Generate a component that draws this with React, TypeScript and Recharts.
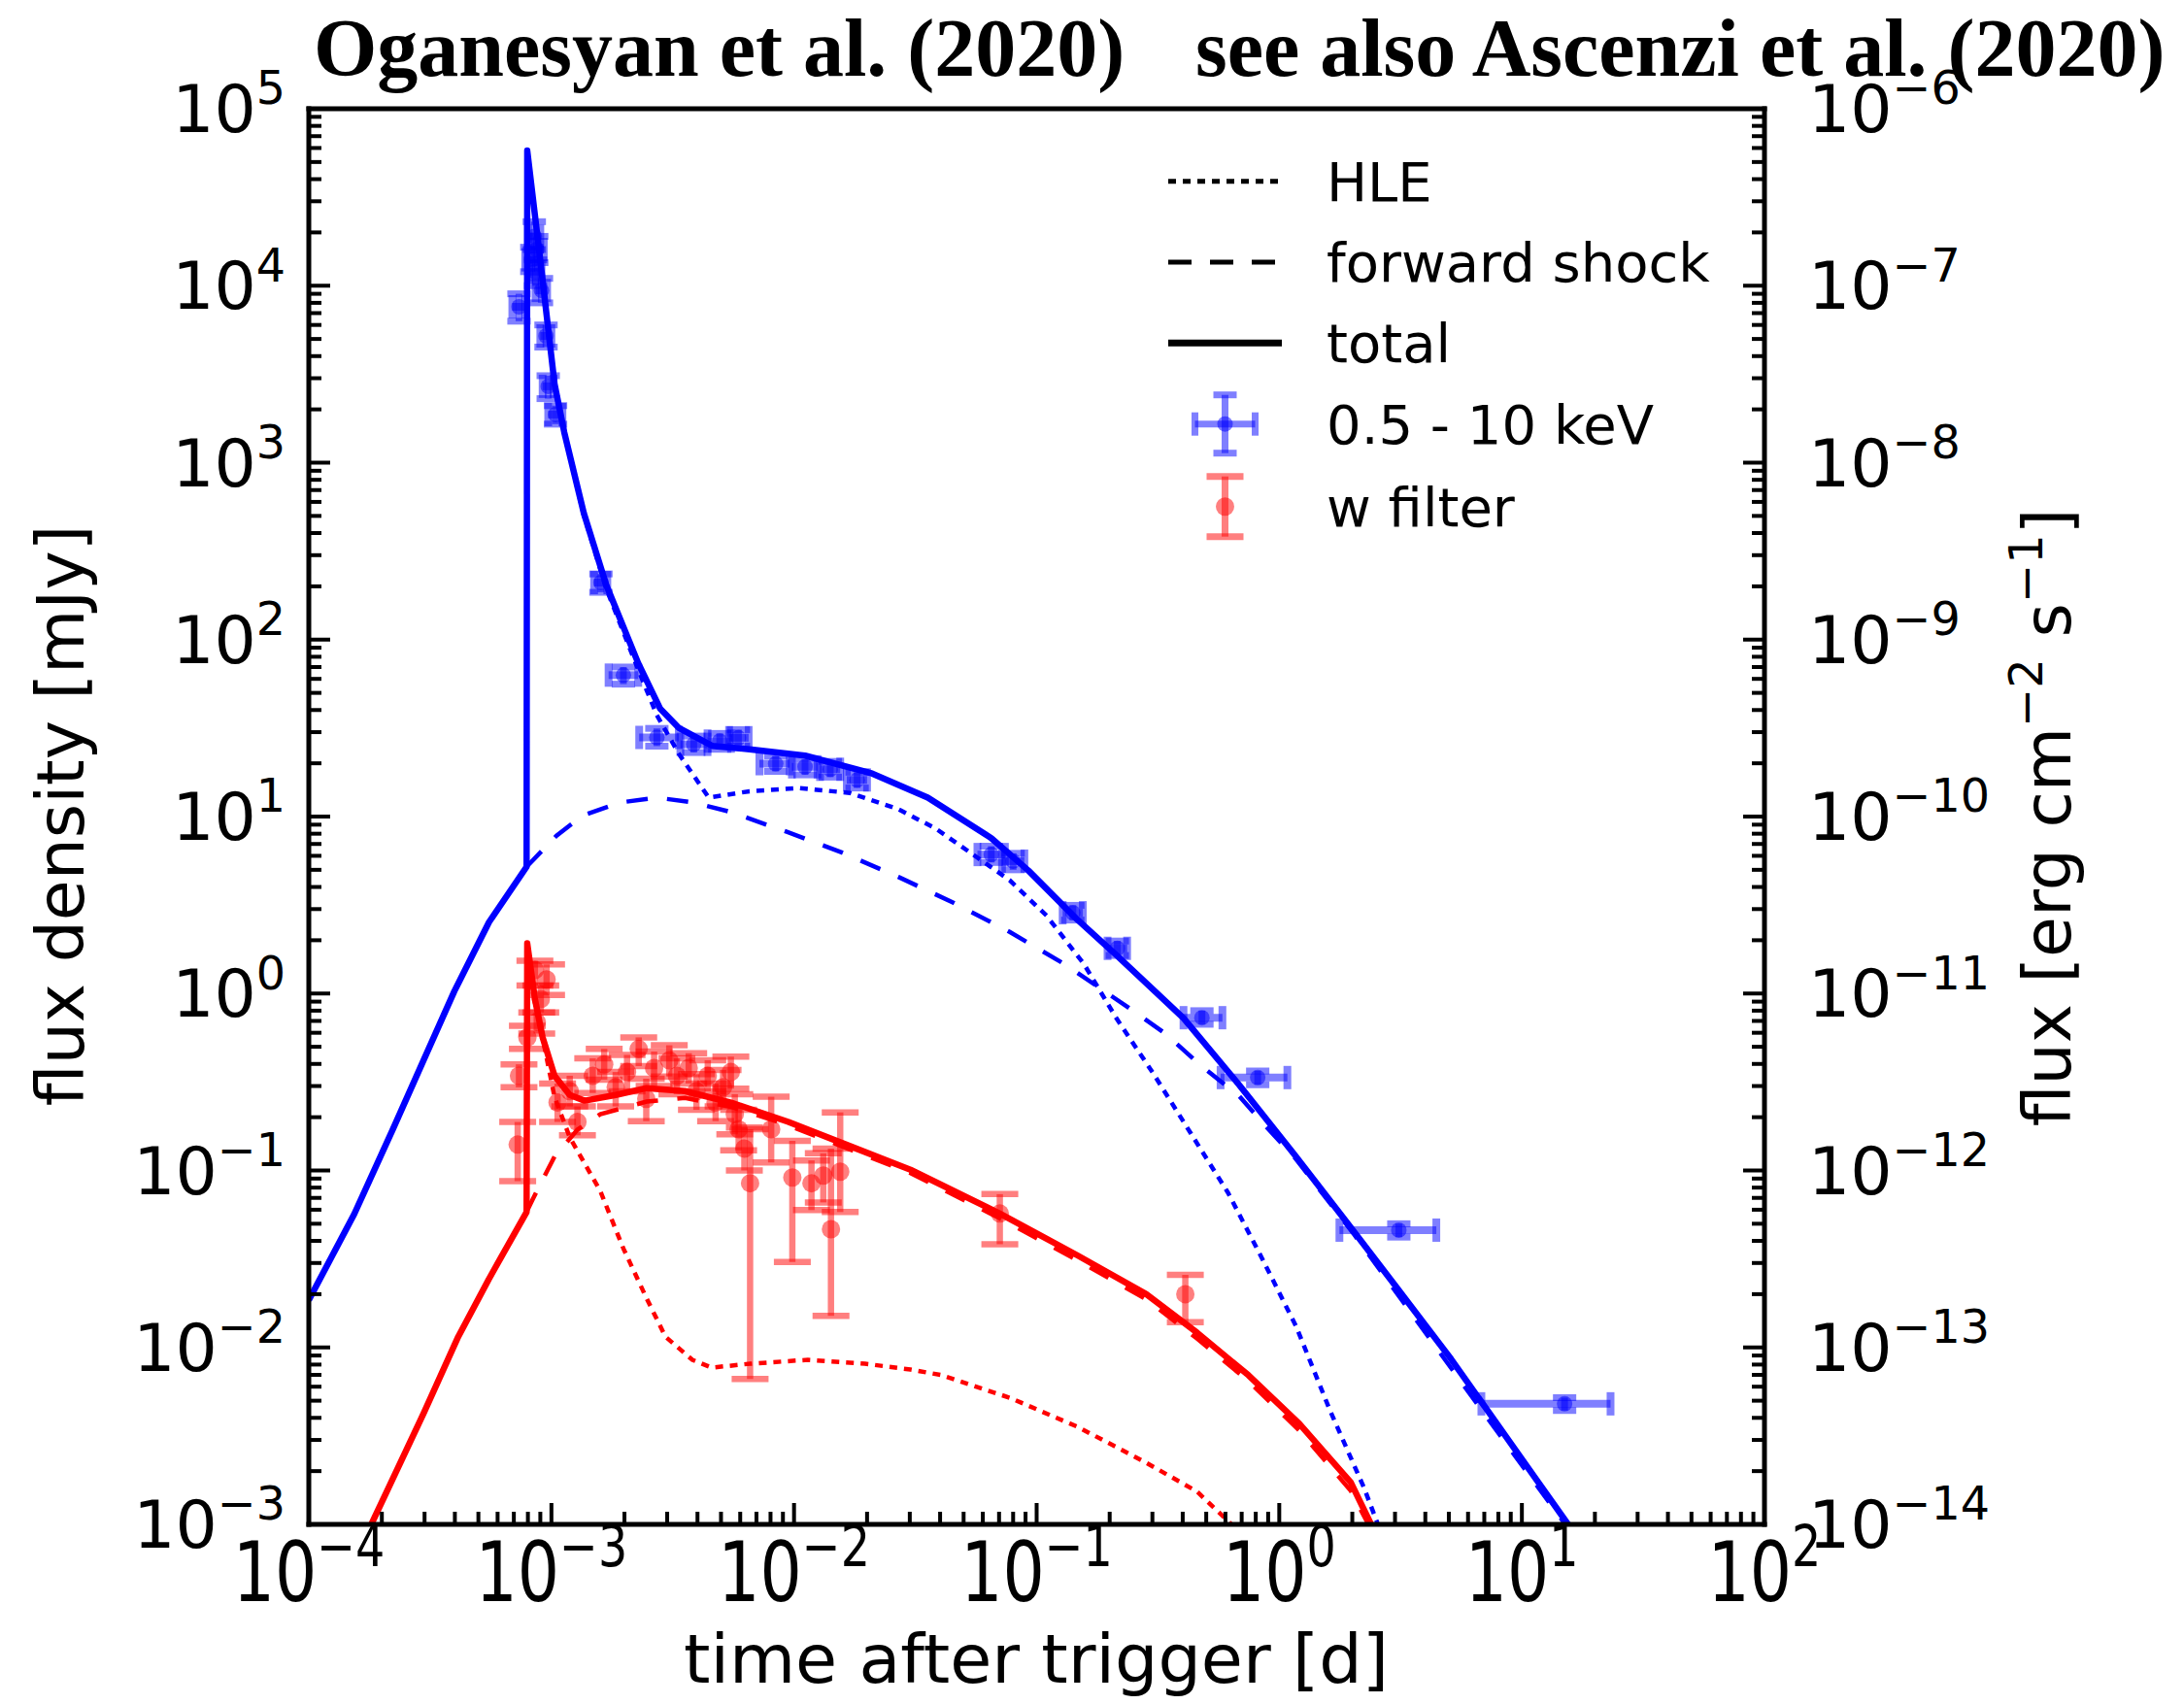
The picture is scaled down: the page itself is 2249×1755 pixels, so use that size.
import { ComposedChart, ErrorBar, Line, Scatter, XAxis, YAxis } from "recharts";

const W = 2249;
const H = 1755;

// model curves: time after trigger [d] and flux density [mJy]
const xrayTotalT = [1.0e-4, 1.54e-4, 2.22e-4, 2.97e-4, 3.98e-4, 5.53e-4, 7.9e-4, 7.95e-4, 9.1e-4, 1.03e-3, 1.13e-3, 1.36e-3, 1.68e-3, 2.28e-3, 2.81e-3, 3.36e-3, 4.6e-3, 6.56e-3, 1.11e-2, 2.1e-2, 3.56e-2, 6.5e-2, 9.25e-2, 0.146, 0.213, 0.403, 0.684, 1.16, 1.9, 3.01, 5.11, 15.5];
const xrayTotalF = [0.0185, 0.0568, 0.171, 0.419, 1.03, 2.53, 5.2, 5.8e4, 1.22e4, 2.79e3, 1.48e3, 518, 205, 73.5, 40.6, 31.6, 25.1, 24.0, 22.1, 17.5, 12.8, 7.55, 4.95, 2.64, 1.65, 0.726, 0.304, 0.122, 0.0509, 0.0223, 0.00859, 0.001];

const xrayHleT = [7.95e-4, 9.1e-4, 1.03e-3, 1.13e-3, 1.36e-3, 1.68e-3, 2.28e-3, 2.72e-3, 3.36e-3, 4.45e-3, 6.56e-3, 1.04e-2, 1.7e-2, 2.69e-2, 3.83e-2, 5.45e-2, 7.74e-2, 0.11, 0.157, 0.213, 0.303, 0.432, 0.615, 0.851, 1.175, 1.62, 2.24, 2.55];
const xrayHleF = [5.8e4, 1.2e4, 2.75e3, 1.46e3, 505, 195, 67.5, 37.4, 22.5, 12.8, 13.9, 14.5, 13.6, 11.0, 8.57, 6.12, 4.37, 2.75, 1.46, 0.726, 0.352, 0.162, 0.0748, 0.0317, 0.0131, 0.00439, 0.0016, 0.001];

const xrayFsT = [7.9e-4, 1.05e-3, 1.34e-3, 1.91e-3, 2.72e-3, 3.86e-3, 5.5e-3, 9.33e-3, 1.58e-2, 2.69e-2, 4.56e-2, 7.74e-2, 0.131, 0.237, 0.337, 0.48, 0.684, 0.875, 1.16, 2.03, 6.71, 15.1];
const xrayFsF = [5.2, 7.8, 10.1, 12.0, 12.8, 12.0, 10.6, 8.2, 6.25, 4.56, 3.25, 2.23, 1.46, 0.839, 0.598, 0.387, 0.263, 0.179, 0.118, 0.0437, 0.00457, 0.001];

const uvotTotalT = [1.81e-4, 2.97e-4, 4.13e-4, 5.52e-4, 7.9e-4, 7.95e-4, 8.55e-4, 9.2e-4, 1.03e-3, 1.19e-3, 1.37e-3, 1.84e-3, 2.47e-3, 3.55e-3, 5.5e-3, 9.48e-3, 1.64e-2, 3.02e-2, 7.05e-2, 0.148, 0.283, 0.459, 0.746, 1.21, 1.97, 2.39];
const uvotTotalF = [0.001, 0.00423, 0.0115, 0.0243, 0.0582, 1.92, 0.931, 0.565, 0.343, 0.267, 0.248, 0.267, 0.292, 0.281, 0.242, 0.188, 0.14, 0.101, 0.0571, 0.033, 0.02, 0.0121, 0.00697, 0.0037, 0.00173, 0.001];

const uvotHleT = [7.95e-4, 8.55e-4, 9.2e-4, 1.03e-3, 1.19e-3, 1.59e-3, 1.98e-3, 2.47e-3, 2.95e-3, 3.81e-3, 4.58e-3, 6.59e-3, 1.14e-2, 1.96e-2, 3.02e-2, 4.06e-2, 7.76e-2, 0.148, 0.283, 0.459, 0.635];
const uvotHleF = [1.92, 0.931, 0.56, 0.26, 0.154, 0.0766, 0.0362, 0.0189, 0.0115, 0.00851, 0.00769, 0.00809, 0.00851, 0.00809, 0.0075, 0.00697, 0.00519, 0.00355, 0.00223, 0.00153, 0.001];

const uvotFsT = [7.9e-4, 8.4e-4, 1.03e-3, 1.28e-3, 1.59e-3, 2.47e-3, 3.55e-3, 5.5e-3, 9.48e-3, 1.64e-2, 3.02e-2, 7.05e-2, 0.148, 0.283, 0.459, 0.746, 1.21, 1.97, 2.33];
const uvotFsF = [0.0582, 0.0693, 0.12, 0.17, 0.208, 0.245, 0.257, 0.229, 0.18, 0.134, 0.0966, 0.0537, 0.031, 0.0187, 0.0112, 0.00646, 0.00339, 0.00155, 0.001];

// XRT 0.5 - 10 keV data
const xrayT = [7.35e-4, 8.5e-4, 8.7e-4, 8.3e-4, 8.6e-4, 9.1e-4, 9.5e-4, 9.7e-4, 1.04e-3, 1.6e-3, 1.98e-3, 2.72e-3, 3.86e-3, 4.94e-3, 5.9e-3, 8.4e-3, 1.11e-2, 1.41e-2, 1.82e-2, 6.5e-2, 8.0e-2, 0.141, 0.215, 0.48, 0.815, 3.11, 15.0];
const xrayTMin = [6.9e-4, 8.0e-4, 8.2e-4, 7.8e-4, 8.1e-4, 8.6e-4, 9.0e-4, 9.2e-4, 9.7e-4, 1.5e-3, 1.72e-3, 2.3e-3, 3.4e-3, 4.4e-3, 5.4e-3, 7.2e-3, 9.8e-3, 1.28e-2, 1.65e-2, 5.7e-2, 7.2e-2, 0.128, 0.196, 0.403, 0.573, 1.77, 6.81];
const xrayTMax = [7.8e-4, 9.0e-4, 9.3e-4, 8.8e-4, 9.1e-4, 9.6e-4, 1.0e-3, 1.02e-3, 1.11e-3, 1.7e-3, 2.28e-3, 3.35e-3, 4.4e-3, 5.5e-3, 6.5e-3, 9.6e-3, 1.25e-2, 1.55e-2, 2.0e-2, 7.4e-2, 8.9e-2, 0.155, 0.236, 0.583, 1.08, 4.44, 23.2];
const xrayF = [7600, 1.9e4, 1.6e4, 1.4e4, 1.2e4, 9400, 5200, 2700, 1870, 210, 63, 28, 25.6, 26.7, 27.9, 19.9, 19.1, 18.5, 16.1, 6.1, 5.6, 2.86, 1.8, 0.73, 0.335, 0.046, 0.0048];
const xrayFMin = [6300, 1.6e4, 1.35e4, 1.2e4, 1.0e4, 8000, 4500, 2300, 1650, 185, 56, 25, 23, 24, 25, 18, 17.2, 16.7, 14.5, 5.5, 5.0, 2.6, 1.64, 0.67, 0.305, 0.042, 0.0044];
const xrayFMax = [9000, 2.3e4, 1.9e4, 1.65e4, 1.4e4, 1.1e4, 6000, 3100, 2100, 235, 70, 31.5, 28.5, 29.5, 31, 22, 21, 20.5, 17.8, 6.8, 6.2, 3.15, 1.98, 0.8, 0.365, 0.05, 0.0052];

// UVOT w filter data
const wT = [7.26e-4, 7.35e-4, 7.96e-4, 8.55e-4, 8.7e-4, 9.04e-4, 9.55e-4, 1.06e-3, 1.19e-3, 1.28e-3, 1.48e-3, 1.65e-3, 1.84e-3, 2.05e-3, 2.29e-3, 2.46e-3, 2.65e-3, 3.06e-3, 3.29e-3, 3.68e-3, 3.96e-3, 4.41e-3, 4.75e-3, 5.1e-3, 5.49e-3, 5.7e-3, 5.91e-3, 6.24e-3, 6.59e-3, 8.05e-3, 9.84e-3, 1.18e-2, 1.32e-2, 1.42e-2, 1.55e-2, 7.05e-2, 0.41];
const wF = [0.14, 0.343, 0.565, 1.36, 0.69, 0.931, 1.2, 0.242, 0.281, 0.188, 0.343, 0.398, 0.295, 0.36, 0.486, 0.254, 0.379, 0.419, 0.343, 0.379, 0.281, 0.343, 0.242, 0.295, 0.36, 0.208, 0.171, 0.133, 0.0847, 0.171, 0.0912, 0.0847, 0.0935, 0.0466, 0.0984, 0.0571, 0.02];
const wFMin = [0.087, 0.295, 0.486, 1.11, 0.594, 0.782, 0.98, 0.188, 0.23, 0.158, 0.274, 0.326, 0.23, 0.28, 0.389, 0.19, 0.3, 0.34, 0.27, 0.31, 0.22, 0.28, 0.19, 0.23, 0.29, 0.16, 0.13, 0.1, 0.00664, 0.111, 0.0304, 0.0597, 0.066, 0.0151, 0.0582, 0.0383, 0.0139];
const wFMax = [0.188, 0.398, 0.656, 1.53, 0.782, 1.11, 1.46, 0.31, 0.343, 0.23, 0.43, 0.486, 0.36, 0.45, 0.565, 0.33, 0.47, 0.51, 0.43, 0.46, 0.35, 0.42, 0.31, 0.37, 0.44, 0.27, 0.22, 0.175, 0.171, 0.261, 0.147, 0.114, 0.125, 0.133, 0.213, 0.0735, 0.0257];

const timeDecades = [-4, -3, -2, -1, 0, 1, 2];
const fluxDensityDecades = [-3, -2, -1, 0, 1, 2, 3, 4, 5];
const fluxDecades = [-14, -13, -12, -11, -10, -9, -8, -7, -6];

const legendItems = ["HLE", "forward shock", "total", "0.5 - 10 keV", "w filter"];

const BLUE = "#0000ff";
const RED = "#ff0000";
const BLUE_A = "rgba(0,0,255,0.5)";
const RED_A = "rgba(255,0,0,0.5)";
const FONT = "DejaVu Sans, sans-serif";
const TICK_FONT = 68;

const curve = (t: number[], f: number[]) => t.map((v, i) => ({ t: v, f: f[i] }));

const logTicks = (decades: number[]) => {
  const out: number[] = [];
  decades.forEach((d, i) => {
    out.push(Math.pow(10, d));
    if (i < decades.length - 1) for (let k = 2; k < 10; k++) out.push(k * Math.pow(10, d));
  });
  return out;
};

const xrayPts = xrayT.map((t, i) => ({
  t,
  f: xrayF[i],
  tErr: [t - xrayTMin[i], xrayTMax[i] - t],
  fErr: [xrayF[i] - xrayFMin[i], xrayFMax[i] - xrayF[i]],
}));

const wPts = wT.map((t, i) => ({
  t,
  f: wF[i],
  fErr: [wF[i] - wFMin[i], wFMax[i] - wF[i]],
}));

const supText = (e: number) => (e < 0 ? "\u2212" + -e : String(e));

const decadeOf = (v: number) => {
  const l = Math.log10(v);
  const r = Math.round(l);
  return Math.abs(l - r) < 1e-6 ? r : null;
};

function Power({ x, y, e, anchor }: { x: number; y: number; e: number; anchor: "start" | "middle" | "end" }) {
  return (
    <text x={x} y={y} textAnchor={anchor} fontFamily={FONT} fontSize={TICK_FONT} fill="#000">
      10
      <tspan dy={-0.42 * TICK_FONT} fontSize={0.7 * TICK_FONT}>
        {supText(e)}
      </tspan>
    </text>
  );
}

const makeTick = (side: "bottom" | "top" | "left" | "right") => (props: any) => {
  const { x, y, payload } = props;
  const e = decadeOf(payload.value);
  const len = e === null ? 13 : 22;
  const sw = 4;
  if (side === "bottom")
    return (
      <g>
        <line x1={x} x2={x} y1={y} y2={y - len} stroke="#000" strokeWidth={sw} />
        {e !== null && (
          <g transform={`translate(${x},${y + 79}) scale(1,1.25)`}>
            <Power x={0} y={0} e={e} anchor="middle" />
          </g>
        )}
      </g>
    );
  if (side === "top")
    return <line x1={x} x2={x} y1={y} y2={y + len} stroke="#000" strokeWidth={sw} />;
  if (side === "left")
    return (
      <g>
        <line x1={x} x2={x + len} y1={y} y2={y} stroke="#000" strokeWidth={sw} />
        {e !== null && <Power x={x - 24} y={y + 24} e={e} anchor="end" />}
      </g>
    );
  return (
    <g>
      <line x1={x} x2={x - len} y1={y} y2={y} stroke="#000" strokeWidth={sw} />
      {e !== null && <Power x={x + 45} y={y + 24} e={e} anchor="start" />}
    </g>
  );
};

const BlueDot = (p: any) => <circle cx={p.cx} cy={p.cy} r={8} fill={BLUE} fillOpacity={0.5} />;
const RedDot = (p: any) => <circle cx={p.cx} cy={p.cy} r={9.5} fill={RED} fillOpacity={0.5} />;

const axisLine = { stroke: "#000", strokeWidth: 5, strokeLinecap: "square" as const };

function LegendBox() {
  const rows = [186.7, 270, 353.3, 436.7, 521.7];
  const x0 = 1203;
  const x1 = 1320;
  const cx = 1261.5;
  return (
    <g>
      <line x1={x0} x2={x1} y1={rows[0]} y2={rows[0]} stroke="#000" strokeWidth={5} strokeDasharray="8 7" />
      <line x1={x0} x2={x1} y1={rows[1]} y2={rows[1]} stroke="#000" strokeWidth={5} strokeDasharray="24 19" />
      <line x1={x0} x2={x1} y1={rows[2]} y2={rows[2]} stroke="#000" strokeWidth={7} />
      <g stroke={BLUE_A} strokeWidth={7}>
        <line x1={cx - 31} x2={cx + 31} y1={rows[3]} y2={rows[3]} />
        <line x1={cx} x2={cx} y1={rows[3] - 30} y2={rows[3] + 30} />
        <line x1={cx - 31} x2={cx - 31} y1={rows[3] - 12} y2={rows[3] + 12} />
        <line x1={cx + 31} x2={cx + 31} y1={rows[3] - 12} y2={rows[3] + 12} />
        <line x1={cx - 12} x2={cx + 12} y1={rows[3] - 30} y2={rows[3] - 30} />
        <line x1={cx - 12} x2={cx + 12} y1={rows[3] + 30} y2={rows[3] + 30} />
      </g>
      <circle cx={cx} cy={rows[3]} r={8} fill={BLUE} fillOpacity={0.5} />
      <g stroke={RED_A} strokeWidth={7}>
        <line x1={cx} x2={cx} y1={rows[4] - 31} y2={rows[4] + 31} />
        <line x1={cx - 19} x2={cx + 19} y1={rows[4] - 31} y2={rows[4] - 31} />
        <line x1={cx - 19} x2={cx + 19} y1={rows[4] + 31} y2={rows[4] + 31} />
      </g>
      <circle cx={cx} cy={rows[4]} r={9.5} fill={RED} fillOpacity={0.5} />
      {legendItems.map((s, i) => (
        <text key={s} x={1366} y={rows[i] + 20} fontFamily={FONT} fontSize={56} fill="#000">
          {s}
        </text>
      ))}
    </g>
  );
}

export default function App() {
  const xTicks = logTicks(timeDecades);
  const yTicks = logTicks(fluxDensityDecades);
  const rTicks = logTicks(fluxDecades);
  return (
    <div style={{ position: "absolute", left: 0, top: 0, width: W, height: H, background: "#fff" }}>
      <ComposedChart width={W} height={H} margin={{ top: 102, right: 332, bottom: 85, left: 218 }}>
        <XAxis
          xAxisId="b"
          dataKey="t"
          type="number"
          scale="log"
          domain={[1e-4, 1e2]}
          allowDataOverflow
          ticks={xTicks}
          interval={0}
          height={100}
          tickSize={0}
          tickMargin={0}
          tickLine={false}
          axisLine={axisLine}
          tick={makeTick("bottom")}
        />
        <XAxis
          xAxisId="t"
          orientation="top"
          type="number"
          scale="log"
          domain={[1e-4, 1e2]}
          allowDataOverflow
          ticks={xTicks}
          interval={0}
          height={10}
          tickSize={0}
          tickMargin={0}
          tickLine={false}
          axisLine={axisLine}
          tick={makeTick("top")}
        />
        <YAxis
          yAxisId="l"
          dataKey="f"
          type="number"
          scale="log"
          domain={[1e-3, 1e5]}
          allowDataOverflow
          ticks={yTicks}
          interval={0}
          width={100}
          tickSize={0}
          tickMargin={0}
          tickLine={false}
          axisLine={axisLine}
          tick={makeTick("left")}
        />
        <YAxis
          yAxisId="r"
          orientation="right"
          type="number"
          scale="log"
          domain={[1e-14, 1e-6]}
          allowDataOverflow
          ticks={rTicks}
          interval={0}
          width={100}
          tickSize={0}
          tickMargin={0}
          tickLine={false}
          axisLine={axisLine}
          tick={makeTick("right")}
        />

        <Line xAxisId="b" yAxisId="l" data={curve(xrayHleT, xrayHleF)} dataKey="f" type="linear" stroke={BLUE} strokeWidth={4.5} strokeDasharray="8 7" dot={false} activeDot={false} isAnimationActive={false} />
        <Line xAxisId="b" yAxisId="l" data={curve(xrayFsT, xrayFsF)} dataKey="f" type="linear" stroke={BLUE} strokeWidth={4.5} strokeDasharray="22 20" dot={false} activeDot={false} isAnimationActive={false} />
        <Line xAxisId="b" yAxisId="l" data={curve(xrayTotalT, xrayTotalF)} dataKey="f" type="linear" stroke={BLUE} strokeWidth={6.5} strokeLinejoin="round" dot={false} activeDot={false} isAnimationActive={false} />
        <Line xAxisId="b" yAxisId="l" data={curve(uvotHleT, uvotHleF)} dataKey="f" type="linear" stroke={RED} strokeWidth={4.5} strokeDasharray="8 7" dot={false} activeDot={false} isAnimationActive={false} />
        <Line xAxisId="b" yAxisId="l" data={curve(uvotFsT, uvotFsF)} dataKey="f" type="linear" stroke={RED} strokeWidth={4.5} strokeDasharray="22 20" dot={false} activeDot={false} isAnimationActive={false} />
        <Line xAxisId="b" yAxisId="l" data={curve(uvotTotalT, uvotTotalF)} dataKey="f" type="linear" stroke={RED} strokeWidth={6.5} strokeLinejoin="round" dot={false} activeDot={false} isAnimationActive={false} />

        <Scatter xAxisId="b" yAxisId="l" data={xrayPts} shape={BlueDot} isAnimationActive={false}>
          <ErrorBar dataKey="tErr" direction="x" width={12} stroke={BLUE_A} strokeWidth={8} isAnimationActive={false} />
          <ErrorBar dataKey="fErr" direction="y" width={12} stroke={BLUE_A} strokeWidth={7} isAnimationActive={false} />
        </Scatter>
        <Scatter xAxisId="b" yAxisId="l" data={wPts} shape={RedDot} isAnimationActive={false}>
          <ErrorBar dataKey="fErr" direction="y" width={19} stroke={RED_A} strokeWidth={6.5} isAnimationActive={false} />
        </Scatter>

        <LegendBox />

        <text x={1067} y={1733} textAnchor="middle" fontFamily={FONT} fontSize={70} fill="#000">
          time after trigger [d]
        </text>
        <text x={86} y={840} transform="rotate(-90 86 840)" textAnchor="middle" fontFamily={FONT} fontSize={68} fill="#000">
          flux density [mJy]
        </text>
        <text x={2132} y={842} transform="rotate(-90 2132 842)" textAnchor="middle" fontFamily={FONT} fontSize={68} fill="#000">
          flux [erg cm
          <tspan dy={-29} fontSize={48}>{"\u22122"}</tspan>
          <tspan dy={29}> s</tspan>
          <tspan dy={-29} fontSize={48}>{"\u22121"}</tspan>
          <tspan dy={29}>]</tspan>
        </text>

        <text x={323} y={78} fontFamily="Liberation Serif, serif" fontWeight="bold" fontSize={84} fill="#000">
          Oganesyan et al. (2020)
        </text>
        <text x={1231} y={78} fontFamily="Liberation Serif, serif" fontWeight="bold" fontSize={84} fill="#000">
          see also Ascenzi et al. (2020)
        </text>
      </ComposedChart>
    </div>
  );
}
